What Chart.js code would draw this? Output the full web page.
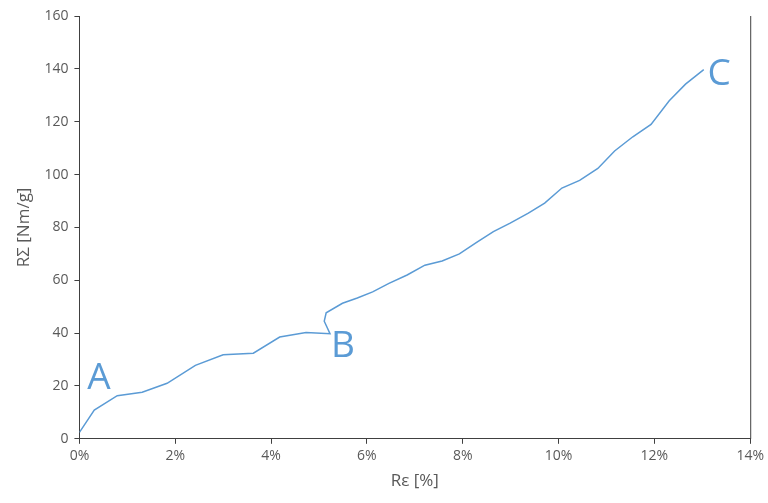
<!DOCTYPE html>
<html>
<head>
<meta charset="utf-8">
<script src="https://cdn.jsdelivr.net/npm/chart.js@4/dist/chart.umd.min.js"></script>
<style>
  html, body { margin: 0; padding: 0; background: #fff; }
  #wrap { width: 768px; height: 503px; }
</style>
</head>
<body>
<div id="wrap"><canvas id="chart" width="768" height="503"></canvas></div>
<script>
// strain [%] and stress [Nm/g]
const strain = [0, 0.31, 0.79, 1.31, 1.83, 2.42, 3.0, 3.63, 4.18, 4.73, 5.23, 5.11, 5.15, 5.49, 5.8, 6.12, 6.46, 6.84, 7.21, 7.57, 7.93, 8.29, 8.64, 8.99, 9.37, 9.71, 10.07, 10.44, 10.82, 11.17, 11.55, 11.93, 12.31, 12.65, 13.03];
const stress = [2.4, 10.9, 16.3, 17.6, 21.0, 27.8, 31.8, 32.4, 38.5, 40.2, 39.8, 44.5, 47.7, 51.3, 53.3, 55.6, 58.8, 62.0, 65.7, 67.3, 70.0, 74.3, 78.4, 81.6, 85.4, 89.2, 94.9, 97.8, 102.3, 108.9, 114.3, 119.0, 127.9, 134.2, 139.7];

// point labels and where they sit (data coords)
const markLabels = ["A", "B", "C"];
const markX = [0.41, 5.5, 13.35];
const markY = [23, 35, 138];

const xTicks = [0, 2, 4, 6, 8, 10, 12, 14];

const blue = "#5b9bd5";

const labelPlugin = {
  id: "markLabels",
  afterDatasetsDraw(chart) {
    const { ctx, scales } = chart;
    ctx.save();
    ctx.fillStyle = blue;
    ctx.font = "37px 'Open Sans', sans-serif";
    ctx.textAlign = "center";
    ctx.textBaseline = "middle";
    markLabels.forEach((t, i) => {
      ctx.fillText(t, scales.x.getPixelForValue(markX[i]), scales.y.getPixelForValue(markY[i]));
    });
    ctx.restore();
  },
  afterDraw(chart) {
    const { ctx, chartArea } = chart;
    ctx.save();
    ctx.strokeStyle = "#404040";
    ctx.lineWidth = 1;
    ctx.beginPath();
    ctx.moveTo(chartArea.right + 0.5, chartArea.top);
    ctx.lineTo(chartArea.right + 0.5, chartArea.bottom);
    ctx.stroke();
    ctx.restore();
  }
};

const ctx = document.getElementById("chart");

new Chart(ctx, {
  type: "scatter",
  data: {
    datasets: [{
      data: strain.map((x, i) => ({ x: x, y: stress[i] })),
      showLine: true,
      borderColor: blue,
      borderWidth: 1.5,
      pointRadius: 0,
      tension: 0
    }]
  },
  options: {
    responsive: false,
    animation: false,
    layout: { padding: { top: 16, right: 14, left: 14, bottom: 12 } },
    plugins: {
      legend: { display: false },
      tooltip: { enabled: false }
    },
    scales: {
      x: {
        type: "linear",
        min: 0,
        max: 14,
        afterBuildTicks: (axis) => { axis.ticks = xTicks.map(v => ({ value: v })); },
        ticks: {
          color: "#595959",
          font: { family: "'Open Sans', sans-serif", size: 14 },
          padding: 4,
          maxRotation: 0,
          callback: (v) => v + "%"
        },
        grid: { drawOnChartArea: false, color: "#404040", tickLength: 5 },
        border: { color: "#404040", width: 1 },
        title: {
          display: true,
          text: "Rε [%]",
          color: "#595959",
          font: { family: "'Open Sans', sans-serif", size: 17 },
          padding: { top: 2, bottom: 0 }
        }
      },
      y: {
        min: 0,
        max: 160,
        ticks: {
          stepSize: 20,
          color: "#595959",
          font: { family: "'Open Sans', sans-serif", size: 14 },
          padding: 6
        },
        grid: { drawOnChartArea: false, color: "#404040", tickLength: 5 },
        border: { color: "#404040", width: 1 },
        title: {
          display: true,
          text: "RΣ [Nm/g]",
          color: "#595959",
          font: { family: "'Open Sans', sans-serif", size: 17 },
          padding: { top: 0, bottom: 4 }
        }
      }
    }
  },
  plugins: [labelPlugin]
});
</script>
</body>
</html>
